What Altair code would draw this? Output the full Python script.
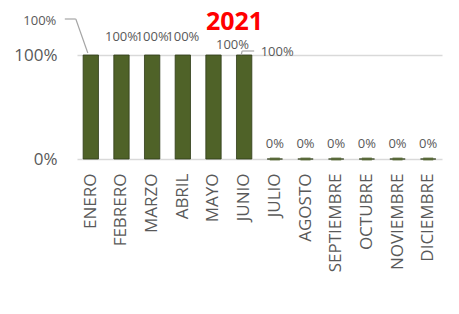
import altair as alt
import pandas as pd

meses = ["ENERO", "FEBRERO", "MARZO", "ABRIL", "MAYO", "JUNIO", "JULIO",
         "AGOSTO", "SEPTIEMBRE", "OCTUBRE", "NOVIEMBRE", "DICIEMBRE"]
valores = [1.0, 1.0, 1.0, 1.0, 1.0, 1.0, 0, 0, 0, 0, 0, 0]
etiquetas = ["100%", "100%", "100%", "100%", "100%", "100%", "0%", "0%", "0%", "0%", "0%", "0%"]

df = pd.DataFrame({"mes": meses, "valor": valores, "etiqueta": etiquetas})

gray = "#595959"
green = "#4F6228"
font = "Open Sans"

x = alt.X("mes:N", sort=meses, title=None,
          scale=alt.Scale(paddingInner=0.5, paddingOuter=0.2),
          axis=alt.Axis(labelAngle=-90, labelFontSize=17, labelColor=gray,
                        labelFont=font, ticks=False, domain=False,
                        labelPadding=14, labelBaseline="middle", labelAlign="right"))
y = alt.Y("valor:Q", title=None,
          scale=alt.Scale(domain=[0, 1]),
          axis=alt.Axis(values=[0, 1], format=".0%", labelFontSize=17, labelColor=gray,
                        labelFont=font, ticks=False, domain=False,
                        gridColor="#D9D9D9", gridWidth=1.5, labelPadding=20))

base = alt.Chart(df)

bars = base.mark_bar(color=green, stroke="#2F3B18", strokeWidth=0.8).encode(x=x, y=y)
zero = base.transform_filter("datum.valor == 0").mark_tick(
    color=green, thickness=3, size=10).encode(x=x, y=y)

txt = dict(fontSize=13, color=gray, font=font)
lab_mid = base.transform_filter(
    "indexof(['FEBRERO','MARZO','ABRIL'], datum.mes) >= 0").mark_text(dy=-18, **txt).encode(
    x=x, y=y, text="etiqueta:N")
lab_mayo = base.transform_filter("datum.mes == 'MAYO'").mark_text(dx=19, dy=-10, **txt).encode(
    x=x, y=y, text="etiqueta:N")
lab_enero = base.transform_filter("datum.mes == 'ENERO'").mark_text(dx=-51, dy=-34, **txt).encode(
    x=x, y=y, text="etiqueta:N")
lab_junio = base.transform_filter("datum.mes == 'JUNIO'").mark_text(dx=33, dy=-3, **txt).encode(
    x=x, y=y, text="etiqueta:N")
lab_zero = base.transform_filter("datum.valor == 0").mark_text(dy=-15, **txt).encode(
    x=x, y=y, text="etiqueta:N")

lead = dict(color="#A6A6A6", strokeWidth=1.2)
enero = base.transform_filter("datum.mes == 'ENERO'")
lead1 = enero.mark_rule(xOffset=-26, x2Offset=-15, yOffset=-36, y2Offset=-36, **lead).encode(
    x=x, x2="mes:N", y=y, y2="valor:Q")
lead2 = enero.mark_rule(xOffset=-15, x2Offset=-3, yOffset=-36, y2Offset=-2, **lead).encode(
    x=x, x2="mes:N", y=y, y2="valor:Q")
junio = base.transform_filter("datum.mes == 'JUNIO'")
lead3 = junio.mark_rule(xOffset=-3, x2Offset=-2, yOffset=0, y2Offset=-4, **lead).encode(
    x=x, x2="mes:N", y=y, y2="valor:Q")
lead4 = junio.mark_rule(xOffset=-2, x2Offset=10, yOffset=-4, y2Offset=-4, **lead).encode(
    x=x, x2="mes:N", y=y, y2="valor:Q")

chart = (bars + zero + lead1 + lead2 + lead3 + lead4 +
         lab_mid + lab_mayo + lab_enero + lab_junio + lab_zero).properties(
    width=365, height=104,
    padding={"top": 2, "left": 5, "right": 5, "bottom": 5},
    title=alt.TitleParams("2021", color="#FF0000", fontSize=25, font=font,
                          fontWeight="bold", anchor="middle", offset=-20, dx=-25),
).configure_view(stroke=None)

chart.save("out.html", embed_options={"renderer": "svg", "actions": False})
